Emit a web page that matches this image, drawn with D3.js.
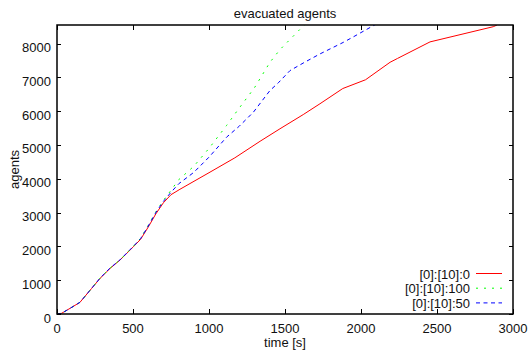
<!DOCTYPE html>
<html>
<head>
<meta charset="utf-8">
<script src="https://cdn.jsdelivr.net/npm/d3@7"></script>
<style>
  html, body { margin: 0; padding: 0; background: #fff; }
  svg { display: block; font-family: "Liberation Sans", Arial, sans-serif; }
</style>
</head>
<body>
<svg id="chart" width="529" height="353"></svg>
<script>
// ---- data ----
const title = "evacuated agents";
const xLabel = "time [s]";
const yLabel = "agents";
const xTicks = [0, 500, 1000, 1500, 2000, 2500, 3000];
const yTicks = [0, 1000, 2000, 3000, 4000, 5000, 6000, 7000, 8000];
const xMax = 3000;
const yMax = 8550;

const seriesNames = ["[0]:[10]:0", "[0]:[10]:100", "[0]:[10]:50"];

const redT = [0, 30, 86, 151, 228, 283, 349, 414, 458, 502, 550, 600, 650, 700, 750, 809, 1000, 1170, 1336, 1467, 1620, 1730, 1880, 2030, 2191, 2240, 2454, 2870, 2895];
const redV = [0, 20, 168, 345, 758, 1053, 1348, 1594, 1791, 1987, 2210, 2570, 2960, 3290, 3530, 3690, 4180, 4620, 5110, 5480, 5900, 6220, 6670, 6930, 7447, 7560, 8050, 8500, 8550];

const greenT = [0, 30, 86, 151, 228, 283, 349, 414, 458, 502, 550, 600, 650, 700, 750, 800, 900, 1000, 1116, 1182, 1300, 1401, 1467, 1550, 1620, 1660];
const greenV = [0, 20, 168, 345, 760, 1060, 1360, 1600, 1800, 2000, 2240, 2620, 3020, 3360, 3660, 3970, 4370, 4900, 5580, 5990, 6700, 7447, 7822, 8200, 8520, 8700];

const blueT = [0, 30, 86, 151, 228, 283, 349, 414, 458, 502, 550, 600, 650, 700, 750, 800, 900, 1000, 1116, 1200, 1292, 1401, 1456, 1533, 1630, 1730, 1884, 1950, 2081, 2120];
const blueV = [0, 20, 168, 345, 760, 1060, 1360, 1600, 1800, 2000, 2230, 2600, 3000, 3330, 3600, 3850, 4190, 4640, 5233, 5560, 5971, 6612, 6839, 7202, 7450, 7694, 8037, 8200, 8530, 8620];

// ---- layout ----
const svg = d3.select("#chart");
const L = 57, R = 513, T = 25, B = 314;
const x = d3.scaleLinear().domain([0, xMax]).range([L, R]);
const y = d3.scaleLinear().domain([0, yMax]).range([B, T]);

svg.append("defs").append("clipPath").attr("id", "clip")
  .append("rect").attr("x", L).attr("y", T).attr("width", R - L).attr("height", B - T);

// tick marks (inward, mirrored)
const tickG = svg.append("g").attr("stroke", "#000").attr("stroke-width", 1);
xTicks.forEach(t => {
  const px = Math.round(x(t)) + 0.5;
  tickG.append("line").attr("x1", px).attr("x2", px).attr("y1", B).attr("y2", B - 5);
  tickG.append("line").attr("x1", px).attr("x2", px).attr("y1", T).attr("y2", T + 5);
});
yTicks.forEach(v => {
  const py = Math.round(y(v)) + 0.5;
  tickG.append("line").attr("x1", L).attr("x2", L + 4).attr("y1", py).attr("y2", py);
  tickG.append("line").attr("x1", R).attr("x2", R - 4).attr("y1", py).attr("y2", py);
});

// tick labels
const fs = 13;
const lab = svg.append("g").attr("font-size", fs).attr("fill", "#111");
xTicks.forEach(t => {
  lab.append("text").attr("x", x(t)).attr("y", 333).attr("text-anchor", "middle").text(t);
});
yTicks.forEach(v => {
  lab.append("text").attr("x", 51).attr("y", y(v) + 8.5).attr("text-anchor", "end").text(v);
});

// title and axis labels
svg.append("text").attr("x", (L + R) / 2).attr("y", 18).attr("text-anchor", "middle")
  .attr("font-size", fs).attr("fill", "#111").text(title);
svg.append("text").attr("x", (L + R) / 2).attr("y", 347).attr("text-anchor", "middle")
  .attr("font-size", fs).attr("fill", "#111").text(xLabel);
svg.append("text").attr("transform", `translate(18.5,${(T + B) / 2}) rotate(-90)`)
  .attr("text-anchor", "middle").attr("font-size", fs).attr("fill", "#111").text(yLabel);

// series
const line = d3.line().x(d => x(d[0])).y(d => y(d[1]));
const series = [
  { name: seriesNames[0], data: d3.zip(redT, redV), color: "#ff0000", dash: null },
  { name: seriesNames[1], data: d3.zip(greenT, greenV), color: "#00ff00", dash: "2,6" },
  { name: seriesNames[2], data: d3.zip(blueT, blueV), color: "#0000ff", dash: "4,3.5" }
];
const plotG = svg.append("g").attr("clip-path", "url(#clip)");
series.forEach(s => {
  plotG.append("path").datum(s.data).attr("d", line)
    .attr("fill", "none").attr("stroke", s.color).attr("stroke-width", 1)
    .attr("stroke-dasharray", s.dash);
});

// frame
svg.append("rect").attr("x", L).attr("y", T).attr("width", R - L).attr("height", B - T)
  .attr("fill", "none").attr("stroke", "#000").attr("stroke-width", 1.5);

// legend
const legG = svg.append("g");
series.forEach((s, i) => {
  const ry = 273.5 + i * 14.7;
  legG.append("text").attr("x", 470).attr("y", ry + 5).attr("text-anchor", "end")
    .attr("font-size", fs).attr("fill", "#111").text(s.name);
  legG.append("line").attr("x1", 476).attr("x2", 502).attr("y1", ry).attr("y2", ry)
    .attr("stroke", s.color).attr("stroke-width", 1).attr("stroke-dasharray", s.dash);
});
</script>
</body>
</html>
